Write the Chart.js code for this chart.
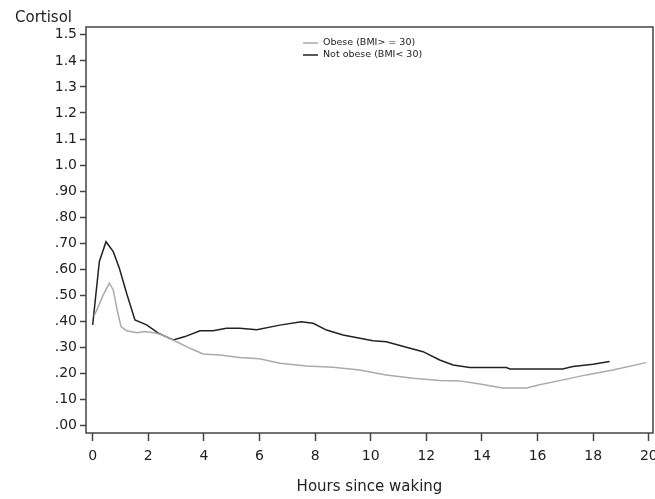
<!DOCTYPE html>
<html>
<head>
<meta charset="utf-8">
<script src="https://cdn.jsdelivr.net/npm/chart.js@4"></script>
<style>
  body { margin: 0; background: #fff; }
  #wrap { width: 655px; height: 499px; }
</style>
</head>
<body>
<div id="wrap"><canvas id="myChart" width="655" height="499"></canvas></div>
<script>
// values
const seriesNames = ["Obese (BMI> = 30)", "Not obese (BMI< 30)"];
const hoursObese = [0.05, 0.2, 0.38, 0.6, 0.74, 0.88, 1.02, 1.22, 1.58, 1.88, 2.3, 2.66, 3.02, 3.5, 3.97, 4.57, 5.29, 6.0, 6.73, 7.69, 8.65, 9.6, 10.56, 11.52, 12.48, 13.2, 13.92, 14.75, 15.6, 16.07, 16.79, 17.75, 18.71, 19.9];
const cortisolObese = [0.42, 0.457, 0.502, 0.547, 0.521, 0.444, 0.38, 0.364, 0.357, 0.361, 0.355, 0.342, 0.322, 0.297, 0.275, 0.271, 0.262, 0.257, 0.24, 0.229, 0.224, 0.214, 0.195, 0.182, 0.173, 0.172, 0.16, 0.145, 0.145, 0.157, 0.173, 0.195, 0.214, 0.242];
const hoursNotObese = [0, 0.24, 0.48, 0.74, 0.96, 1.22, 1.52, 1.94, 2.36, 2.9, 3.32, 3.86, 4.33, 4.81, 5.29, 5.9, 6.73, 7.5, 7.93, 8.41, 9.0, 10.08, 10.56, 11.28, 11.88, 12.48, 12.96, 13.56, 14.88, 15.0, 16.9, 17.27, 17.99, 18.59];
const cortisolNotObese = [0.387, 0.63, 0.706, 0.668, 0.604, 0.508, 0.406, 0.387, 0.355, 0.329, 0.342, 0.364, 0.364, 0.374, 0.374, 0.368, 0.386, 0.399, 0.393, 0.367, 0.348, 0.326, 0.322, 0.301, 0.284, 0.252, 0.233, 0.223, 0.223, 0.218, 0.218, 0.227, 0.236, 0.246];
const xTicks = [0, 2, 4, 6, 8, 10, 12, 14, 16, 18, 20];
const yTicks = [0, 0.1, 0.2, 0.3, 0.4, 0.5, 0.6, 0.7, 0.8, 0.9, 1.0, 1.1, 1.2, 1.3, 1.4, 1.5];

const textFont = "DejaVu Sans";
const textColor = "#222";

function toPoints(xs, ys) {
  return xs.map((x, i) => ({ x: x, y: ys[i] }));
}

function fmtY(v) {
  if (v >= 1) return v.toFixed(1);
  return v.toFixed(2).replace(/^0/, "");
}

// box round the plot, the y title and the legend inside the plot
const framePlugin = {
  id: "frame",
  afterDraw(chart) {
    const ctx = chart.ctx;
    const a = chart.chartArea;
    ctx.save();
    ctx.strokeStyle = "#444";
    ctx.lineWidth = 1.5;
    ctx.strokeRect(a.left, a.top, a.right - a.left, a.bottom - a.top);

    ctx.fillStyle = textColor;
    ctx.font = "15px " + textFont;
    ctx.textBaseline = "middle";
    ctx.textAlign = "left";
    ctx.fillText("Cortisol", 15, 18);

    ctx.font = "9.5px " + textFont;
    chart.data.datasets.forEach(function (ds, i) {
      const y = 43 + i * 12;
      ctx.strokeStyle = ds.borderColor;
      ctx.lineWidth = ds.borderWidth;
      ctx.beginPath();
      ctx.moveTo(303, y);
      ctx.lineTo(318, y);
      ctx.stroke();
      ctx.fillStyle = textColor;
      ctx.fillText(ds.label, 323, y);
    });
    ctx.restore();
  },
};

const ctx = document.getElementById("myChart").getContext("2d");
const chart = new Chart(ctx, {
  type: "line",
  data: {
    datasets: [
      {
        label: seriesNames[0],
        data: toPoints(hoursObese, cortisolObese),
        borderColor: "#aaaaaa",
        borderWidth: 1.5,
        pointRadius: 0,
        tension: 0,
        fill: false,
      },
      {
        label: seriesNames[1],
        data: toPoints(hoursNotObese, cortisolNotObese),
        borderColor: "#222222",
        borderWidth: 1.5,
        pointRadius: 0,
        tension: 0,
        fill: false,
      },
    ],
  },
  options: {
    responsive: false,
    animation: false,
    devicePixelRatio: 1,
    layout: { padding: { top: 27, right: 2, left: 0, bottom: 0 } },
    plugins: {
      legend: { display: false },
      tooltip: { enabled: false },
    },
    scales: {
      x: {
        type: "linear",
        min: -0.24,
        max: 20.15,
        afterBuildTicks(axis) {
          axis.ticks = xTicks.map((v) => ({ value: v }));
        },
        afterFit(axis) {
          axis.height = 66;
          axis.paddingRight = 0;
          axis.paddingLeft = 0;
        },
        grid: {
          drawOnChartArea: false,
          tickLength: 8,
          tickColor: "#444",
          tickWidth: 1.5,
        },
        border: { display: false },
        ticks: {
          color: textColor,
          font: { family: textFont, size: 14 },
          padding: 7,
          maxRotation: 0,
          autoSkip: false,
        },
        title: {
          display: true,
          text: "Hours since waking",
          color: textColor,
          font: { family: textFont, size: 15 },
          padding: { top: 4, bottom: 3 },
        },
      },
      y: {
        type: "linear",
        min: -0.028,
        max: 1.53,
        afterBuildTicks(axis) {
          axis.ticks = yTicks.map((v) => ({ value: v }));
        },
        afterFit(axis) {
          axis.width = 86;
          axis.paddingTop = 0;
          axis.paddingBottom = 0;
        },
        grid: {
          drawOnChartArea: false,
          tickLength: 6,
          tickColor: "#444",
          tickWidth: 1.5,
        },
        border: { display: false },
        ticks: {
          color: textColor,
          font: { family: textFont, size: 14 },
          padding: 3,
          autoSkip: false,
          callback: (v) => fmtY(v),
        },
      },
    },
  },
  plugins: [framePlugin],
});
</script>
</body>
</html>
